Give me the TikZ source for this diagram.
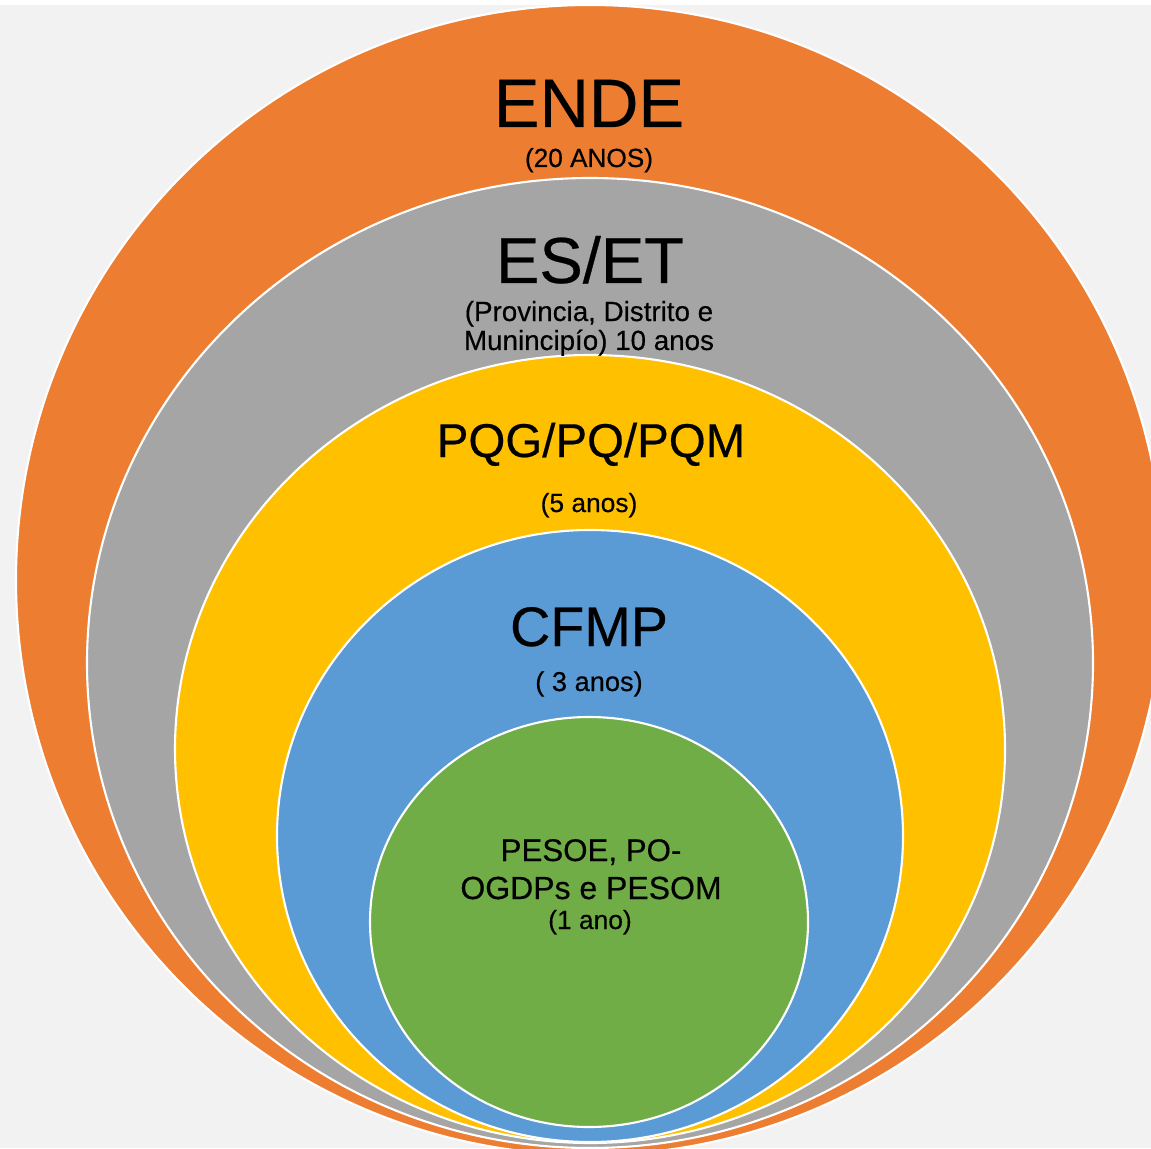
\documentclass[tikz,border=0pt]{standalone}
\usepackage{fontspec}
\setmainfont[FakeBold=0.4]{Liberation Sans}

\definecolor{bgpanel}{HTML}{F2F2F2}
\definecolor{endeorange}{HTML}{ED7D31}
\definecolor{esgray}{HTML}{A5A5A5}
\definecolor{pqgold}{HTML}{FFC000}
\definecolor{cfmpblue}{HTML}{5B9BD5}
\definecolor{pesgreen}{HTML}{70AD47}

\newcommand{\fsz}[1]{\fontsize{#1}{1.2\dimexpr #1pt\relax}\selectfont}

\tikzset{
  ring/.style={draw=white, line width=1.2pt},
  lvltext/.style={anchor=base, inner sep=0pt, text=black},
}

\begin{document}
\begin{tikzpicture}[x=0.02cm, y=-0.02cm]

\useasboundingbox (0,0) rectangle (1151,1148);
\clip (0,0) rectangle (1151,1148);
\fill [bgpanel] (0,0) rectangle (1151,1148);
\fill [white] (0,0) rectangle (1151,5);

% nested horizons
\draw [ring, fill=endeorange] (590,580) ellipse [x radius=574, y radius=575];
\draw [ring, fill=esgray] (590,663) ellipse [x radius=503, y radius=485];
\draw [ring, fill=pqgold] (590,749) ellipse [x radius=415, y radius=394];
\draw [ring, fill=cfmpblue] (590,836) ellipse [x radius=313, y radius=306];
\draw [ring, fill=pesgreen] (589,922) ellipse [x radius=219, y radius=205];

% ENDE
\draw (589,127) node (ende) [lvltext, font=\fsz{39}] {ENDE};
\draw (589,167) node (ende20) [lvltext, font=\fsz{14.9}] {(20 ANOS)};

% ES/ET
\draw (590,283) node (eset) [lvltext, font=\fsz{37}] {ES/ET};
\draw (589,321) node (prov1) [lvltext, font=\fsz{15.8}] {(Provincia, Distrito e};
\draw (589,350) node (prov2) [lvltext, font=\fsz{15.8}] {Munincipío) 10 anos};

% PQG/PQ/PQM
\draw (591,457) node (pqg) [lvltext, font=\fsz{27}] {PQG/PQ/PQM};
\draw (589,512) node (anos5) [lvltext, font=\fsz{15}] {(5 anos)};

% CFMP
\draw (589,646) node (cfmp) [lvltext, font=\fsz{31.7}] {CFMP};
\draw (589,691) node (anos3) [lvltext, font=\fsz{15.5}] {( 3 anos)};

% PESOE
\draw (591,861) node (pesoe) [lvltext, font=\fsz{17.8}] {PESOE, PO-};
\draw (591,899) node (ogdp) [lvltext, font=\fsz{18.2}] {OGDPs e PESOM};
\draw (590,929) node (ano1) [lvltext, font=\fsz{15}] {(1 ano)};

\end{tikzpicture}
\end{document}
